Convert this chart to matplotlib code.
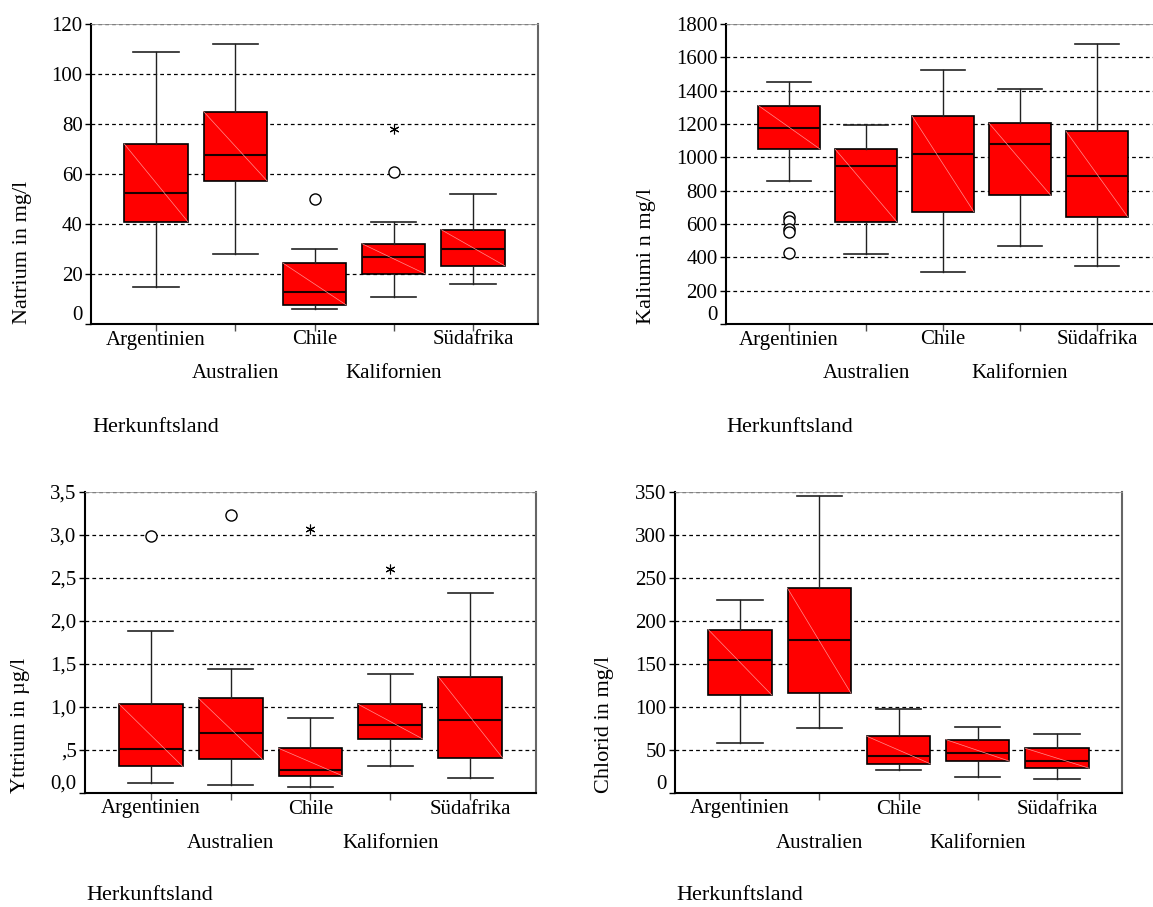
import numpy as np
import matplotlib.pyplot as plt
from matplotlib.transforms import ScaledTranslation

plt.rcParams['font.family'] = ['Liberation Serif', 'DejaVu Serif']

W, H = 1153, 907
laender = ['Argentinien', 'Australien', 'Chile', 'Kalifornien', 'Südafrika']

# Natrium in mg/l  (unterer Whisker, Q1, Median, Q3, oberer Whisker)
na_lo = [15, 28, 6, 11, 16]
na_q1 = [41, 57.3, 7.6, 20, 23.3]
na_med = [52.5, 67.5, 12.8, 26.9, 30]
na_q3 = [72, 85, 24.4, 32.1, 37.7]
na_hi = [109, 112, 30, 41, 52]
na_kreis_x = [3, 4]
na_kreis_y = [50, 61]
na_stern_x = [4]
na_stern_y = [78]

# Kalium in mg/l
k_lo = [856, 421, 311, 469, 351]
k_q1 = [1050, 613, 674, 772, 643]
k_med = [1174, 948, 1020, 1081, 888]
k_q3 = [1311, 1048, 1247, 1204, 1156]
k_hi = [1455, 1193, 1527, 1413, 1683]
k_kreis_x = [1, 1, 1, 1, 1]
k_kreis_y = [640, 620, 570, 555, 425]
k_stern_x = []
k_stern_y = []

# Yttrium in ug/l
y_lo = [0.12, 0.09, 0.07, 0.31, 0.18]
y_q1 = [0.31, 0.39, 0.2, 0.63, 0.41]
y_med = [0.51, 0.7, 0.27, 0.79, 0.85]
y_q3 = [1.04, 1.1, 0.52, 1.03, 1.35]
y_hi = [1.88, 1.44, 0.87, 1.38, 2.33]
y_kreis_x = [1, 2]
y_kreis_y = [2.99, 3.23]
y_stern_x = [3, 4]
y_stern_y = [3.07, 2.61]

# Chlorid in mg/l
cl_lo = [58, 76, 27, 19, 16]
cl_q1 = [114, 116, 34, 37, 29]
cl_med = [155, 178, 43, 46, 37]
cl_q3 = [190, 238, 66, 62, 52]
cl_hi = [224, 345, 98, 77, 69]
cl_kreis_x = []
cl_kreis_y = []
cl_stern_x = []
cl_stern_y = []

fig = plt.figure(figsize=(W / 100, H / 100), dpi=100)


def px(x, y):
    return x / W, 1 - y / H


def panel(rect, lo, q1, med, q3, hi, kx, ky, sx, sy, yticks, ytl, ylabel, ylab_x, xlab_pos):
    left, top, width, bottom = rect
    ax = fig.add_axes([left / W, 1 - bottom / H, width / W, (bottom - top) / H])
    stats = []
    for i in range(5):
        stats.append(dict(whislo=lo[i], q1=q1[i], med=med[i], q3=q3[i], whishi=hi[i], fliers=[]))
    ax.bxp(stats, positions=range(1, 6), widths=0.8, capwidths=0.57, patch_artist=True,
           boxprops=dict(facecolor='#ff0000', edgecolor='black', linewidth=1.2),
           medianprops=dict(color='#1a0000', linewidth=1.5),
           whiskerprops=dict(color='#222222', linewidth=1.0),
           capprops=dict(color='#222222', linewidth=1.2), showfliers=False)
    for i in range(5):
        ax.plot([i + 1 - 0.4, i + 1 + 0.4], [q3[i], q1[i]], color='#ff9090', lw=0.5, zorder=3)
    ax.plot(kx, ky, linestyle='none', marker='o', ms=8, mfc='white', mec='black', mew=1.0, zorder=4)
    ax.plot(sx, sy, linestyle='none', marker=(6, 2, 0), ms=7, color='black', mew=0.8, zorder=4)

    ax.set_xlim(0.18, 5.82)
    ax.set_ylim(yticks[0], yticks[-1])
    ax.set_yticks(yticks)
    ax.set_yticklabels(ytl, fontsize=15)
    ax.set_xticks(range(1, 6))
    ax.set_xticklabels([''] * 5)
    ax.tick_params(axis='y', direction='out', length=4, width=1, pad=2)
    ax.tick_params(axis='x', direction='out', length=5, width=1, color='0.3')
    ax.set_axisbelow(True)
    ax.yaxis.grid(True, linestyle=(0, (3, 2.5)), color='black', linewidth=0.9)

    # SPSS hebt die Null-Beschriftung etwas an
    lab0 = ax.get_yticklabels()[0]
    lab0.set_transform(lab0.get_transform() + ScaledTranslation(0, 0.11, fig.dpi_scale_trans))

    ax.spines['left'].set_linewidth(1.5)
    ax.spines['bottom'].set_linewidth(1.5)
    ax.spines['right'].set_color('0.4')
    ax.spines['right'].set_linewidth(1.5)
    ax.spines['top'].set_color('0.6')
    ax.spines['top'].set_linewidth(0.6)

    trans = ax.get_xaxis_transform()
    for i, name in enumerate(laender):
        dy = 0.16 if i % 2 == 0 else 0.50
        t = trans + ScaledTranslation(0, -dy, fig.dpi_scale_trans)
        ax.text(i + 1, 0, name, transform=t, ha='center', va='center', fontsize=15)

    fx, fy = px(ylab_x, bottom)
    fig.text(fx, fy, ylabel, rotation=90, ha='center', va='bottom', fontsize=16)
    hx, hy = px(*xlab_pos)
    fig.text(hx, hy, 'Herkunftsland', ha='left', va='center', fontsize=16)
    return ax


panel((91, 24, 447, 324), na_lo, na_q1, na_med, na_q3, na_hi,
      na_kreis_x, na_kreis_y, na_stern_x, na_stern_y,
      [0, 20, 40, 60, 80, 100, 120], ['0', '20', '40', '60', '80', '100', '120'],
      'Natrium in mg/l', 23, (92, 428))

panel((726, 24, 434, 324), k_lo, k_q1, k_med, k_q3, k_hi,
      k_kreis_x, k_kreis_y, k_stern_x, k_stern_y,
      list(range(0, 1801, 200)), [str(v) for v in range(0, 1801, 200)],
      'Kaliumi n mg/l', 646, (726, 428))

panel((85, 492, 451, 793), y_lo, y_q1, y_med, y_q3, y_hi,
      y_kreis_x, y_kreis_y, y_stern_x, y_stern_y,
      [0, 0.5, 1, 1.5, 2, 2.5, 3, 3.5], ['0,0', ',5', '1,0', '1,5', '2,0', '2,5', '3,0', '3,5'],
      'Yttrium in µg/l', 21, (86, 895))

panel((675, 492, 447, 793), cl_lo, cl_q1, cl_med, cl_q3, cl_hi,
      cl_kreis_x, cl_kreis_y, cl_stern_x, cl_stern_y,
      [0, 50, 100, 150, 200, 250, 300, 350], ['0', '50', '100', '150', '200', '250', '300', '350'],
      'Chlorid in mg/l', 605, (676, 895))

fig.savefig('out.png', dpi=100)
